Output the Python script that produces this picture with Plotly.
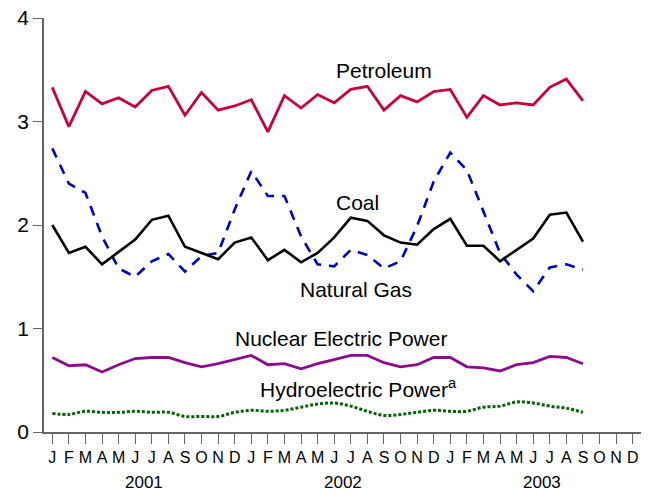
import plotly.graph_objects as go

months = ["J","F","M","A","M","J","J","A","S","O","N","D"] * 3
years = ["2001", "2002", "2003"]

petroleum = [3.33, 2.95, 3.29, 3.17, 3.23, 3.14, 3.30, 3.34, 3.06, 3.28, 3.11, 3.15,
             3.21, 2.90, 3.25, 3.13, 3.26, 3.18, 3.31, 3.34, 3.11, 3.25, 3.19, 3.29,
             3.31, 3.04, 3.25, 3.16, 3.18, 3.16, 3.33, 3.41, 3.20]
coal = [2.00, 1.73, 1.79, 1.62, 1.74, 1.86, 2.05, 2.09, 1.79, 1.73, 1.67, 1.83,
        1.88, 1.66, 1.76, 1.64, 1.73, 1.88, 2.07, 2.04, 1.90, 1.83, 1.81, 1.96,
        2.06, 1.80, 1.80, 1.65, 1.76, 1.87, 2.10, 2.12, 1.84]
natural_gas = [2.74, 2.40, 2.31, 1.89, 1.58, 1.50, 1.65, 1.72, 1.55, 1.70, 1.73, 2.15,
               2.52, 2.28, 2.28, 1.89, 1.62, 1.60, 1.76, 1.71, 1.58, 1.65, 1.99, 2.42,
               2.70, 2.53, 2.13, 1.73, 1.52, 1.36, 1.59, 1.62, 1.57]
nuclear = [0.72, 0.64, 0.65, 0.58, 0.65, 0.71, 0.72, 0.72, 0.67, 0.63, 0.66, 0.70,
           0.74, 0.65, 0.66, 0.61, 0.66, 0.70, 0.74, 0.74, 0.67, 0.63, 0.65, 0.72,
           0.72, 0.63, 0.62, 0.59, 0.65, 0.67, 0.73, 0.72, 0.66]
hydro = [0.18, 0.17, 0.20, 0.19, 0.19, 0.20, 0.19, 0.19, 0.15, 0.15, 0.15, 0.19,
         0.21, 0.20, 0.21, 0.24, 0.27, 0.28, 0.25, 0.20, 0.16, 0.17, 0.19, 0.21,
         0.20, 0.20, 0.24, 0.25, 0.29, 0.28, 0.25, 0.23, 0.19]

x = list(range(len(petroleum)))
FONT = "Liberation Sans, Arial, sans-serif"

fig = go.Figure()
fig.add_trace(go.Scatter(x=x, y=petroleum, mode="lines",
                         line=dict(color="#C8003C", width=2.8)))
fig.add_trace(go.Scatter(x=x, y=natural_gas, mode="lines",
                         line=dict(color="#0000C0", width=2.6, dash="10px,8px")))
fig.add_trace(go.Scatter(x=x, y=coal, mode="lines",
                         line=dict(color="#000000", width=2.6)))
fig.add_trace(go.Scatter(x=x, y=nuclear, mode="lines",
                         line=dict(color="#8C0A8C", width=2.8)))
fig.add_trace(go.Scatter(x=x, y=hydro, mode="lines",
                         line=dict(color="#006400", width=3, dash="3px,2px", shape="spline")))

labels = [
    ("Petroleum", 17.12, 3.49),
    ("Coal", 17.10, 2.22),
    ("Natural Gas", 14.95, 1.38),
    ("Nuclear Electric Power", 10.99, 0.90),
    ("Hydroelectric Power<sup>a</sup>", 12.50, 0.43),
]
for text, lx, ly in labels:
    fig.add_annotation(x=lx, y=ly, text=text, showarrow=False, xanchor="left",
                       yanchor="middle", xshift=-2,
                       font=dict(family=FONT, size=21, color="#000"))

for i, yr in enumerate(years):
    fig.add_annotation(x=5.5 + 12 * i, y=-0.123, yref="paper", text=yr, showarrow=False,
                       xanchor="center", yanchor="middle",
                       font=dict(family=FONT, size=17, color="#000"))

fig.update_layout(
    width=652, height=494,
    margin=dict(l=44, r=11, t=18, b=62, autoexpand=False),
    paper_bgcolor="white", plot_bgcolor="white",
    showlegend=False,
    font=dict(family=FONT, color="#000"),
)
fig.update_xaxes(
    range=[-0.5, 35.5], tickmode="array", tickvals=list(range(36)), ticktext=months,
    ticks="outside", ticklen=10, tickcolor="#666", tickwidth=1.2, automargin=False,
    showline=True, linecolor="#666", linewidth=1.5, showgrid=False, zeroline=False,
    tickfont=dict(family=FONT, size=16, color="#000"), tickangle=0,
)
fig.update_yaxes(
    range=[0, 4], tickvals=[0, 1, 2, 3, 4], ticks="outside", ticklen=9,
    tickcolor="#666", tickwidth=1.2, automargin=False,
    showline=True, linecolor="#666", linewidth=1.5, showgrid=False, zeroline=False,
    tickfont=dict(family=FONT, size=21, color="#000"),
)

fig.write_html("out.html", config={"displayModeBar": False},
               post_script="document.body.style.margin='0';document.body.style.overflow='hidden';")
